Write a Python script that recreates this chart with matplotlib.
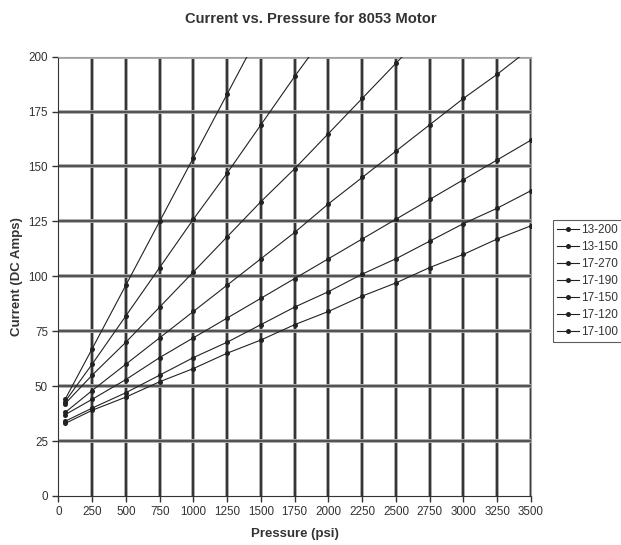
import numpy as np
import matplotlib
matplotlib.use('Agg')
import matplotlib.pyplot as plt

plt.rcParams['font.family'] = ['Liberation Sans', 'DejaVu Sans']

# Verileri
motors = ['13-200', '13-150', '17-270', '17-190', '17-150', '17-120', '17-100']
psi = [50, 250, 500, 750, 1000, 1250, 1500, 1750, 2000, 2250, 2500, 2750, 3000, 3250, 3500]

amps_13_200 = [44, 67, 96, 125, 154, 183, 212]
amps_13_150 = [43, 60, 82, 104, 126, 147, 169, 191, 212]
amps_17_270 = [42, 55, 70, 86, 102, 118, 134, 149, 165, 181, 197, 213]
amps_17_190 = [38, 48, 60, 72, 84, 96, 108, 120, 133, 145, 157, 169, 181, 192, 204]
amps_17_150 = [37, 44, 53, 63, 72, 81, 90, 99, 108, 117, 126, 135, 144, 153, 162]
amps_17_120 = [34, 40, 47, 55, 63, 70, 78, 86, 93, 101, 108, 116, 124, 131, 139]
amps_17_100 = [33, 39, 45, 52, 58, 65, 71, 78, 84, 91, 97, 104, 110, 117, 123]

series = [amps_13_200, amps_13_150, amps_17_270, amps_17_190,
          amps_17_150, amps_17_120, amps_17_100]

x_ticks = list(range(0, 3501, 250))
y_ticks = list(range(0, 201, 25))

fig = plt.figure(figsize=(6.21, 5.45), dpi=100)
ax = fig.add_axes([0.094, 0.090, 0.761, 0.806])

# Kalın, taranmış görünümlü ızgara
for xv in x_ticks[1:]:
    ax.axvline(xv, color='#a8a8a8', lw=2.8, zorder=1)
    ax.axvline(xv, color='#2a2a2a', lw=1.3, zorder=1)
for yv in y_ticks[1:]:
    ax.axhline(yv, color='#ababab', lw=2.8, zorder=1)
    ax.axhline(yv, color='#3a3a3a', lw=1.1, zorder=1)

for name, vals in zip(motors, series):
    ax.plot(psi[:len(vals)], vals, color='#222222', lw=0.8, marker='o',
            markersize=3.6, markerfacecolor='#222222', markeredgewidth=0,
            label=name, zorder=3)

ax.set_xlim(0, 3500)
ax.set_ylim(0, 200)
ax.set_xticks(x_ticks)
ax.set_yticks(y_ticks)
ax.tick_params(axis='both', labelsize=8.4, colors='#333333', length=4, width=1)
ax.spines['top'].set_color('#a0a0a0')
ax.spines['right'].set_color('#a0a0a0')
ax.spines['left'].set_color('#333333')
ax.spines['bottom'].set_color('#333333')

ax.set_xlabel('Pressure (psi)', fontsize=9.5, fontweight='bold', color='#333333', labelpad=7)
ax.set_ylabel('Current (DC Amps)', fontsize=9.5, fontweight='bold', color='#333333', labelpad=4)
fig.suptitle('Current vs. Pressure for 8053 Motor', x=0.5, y=0.978,
             fontsize=10.6, fontweight='bold', color='#333333')

leg = ax.legend(loc='upper left', bbox_to_anchor=(1.047, 0.628), fontsize=8.5,
                frameon=True, fancybox=False, edgecolor='#333333',
                handlelength=1.8, borderpad=0.35, labelspacing=0.42,
                handletextpad=0.25, borderaxespad=0)
leg.get_frame().set_linewidth(0.8)
for t in leg.get_texts():
    t.set_color('#333333')

plt.savefig('out.png', dpi=100)
plt.close(fig)
